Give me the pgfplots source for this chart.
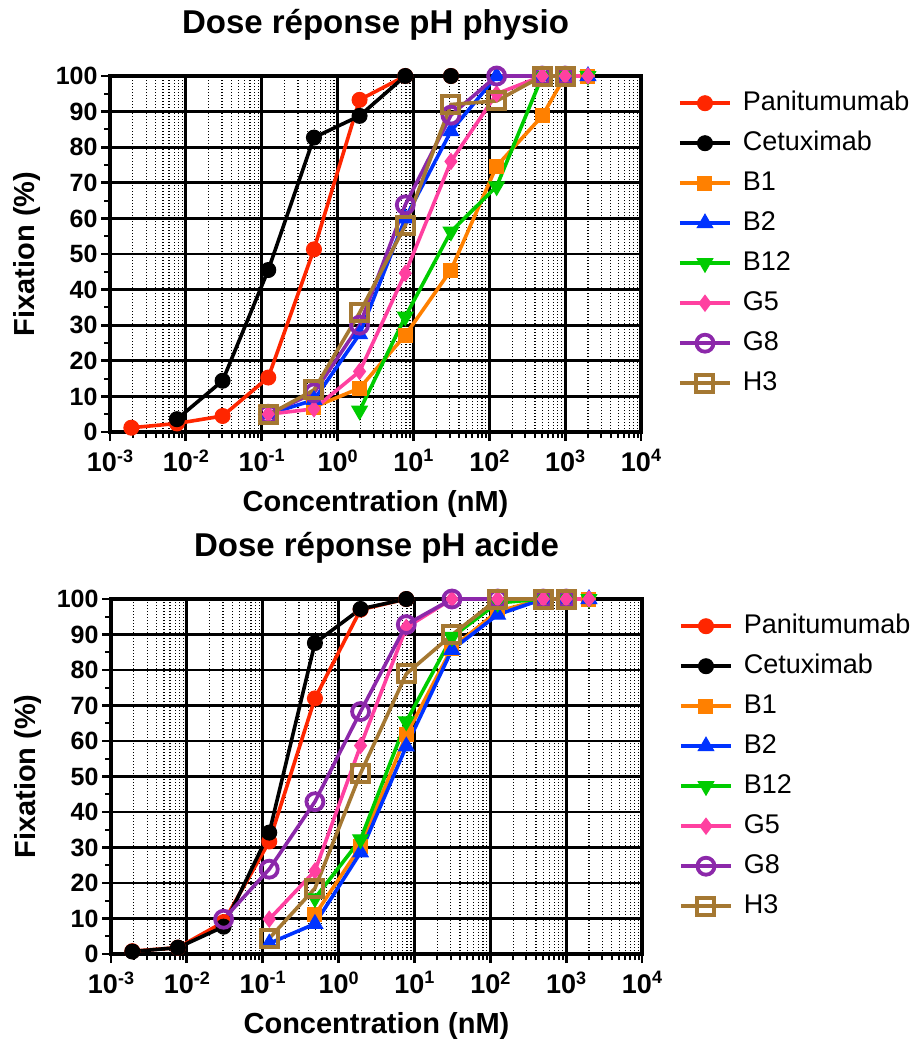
\documentclass[border=0pt]{standalone}
\usepackage{fontspec}
\setmainfont{Liberation Sans}
\usepackage{pgfplots}
\pgfplotsset{compat=1.18}
\definecolor{cPani}{RGB}{255,38,0}
\definecolor{cB1}{RGB}{255,128,0}
\definecolor{cB2}{RGB}{0,51,255}
\definecolor{cB12}{RGB}{0,204,0}
\definecolor{cG5}{RGB}{255,64,160}
\definecolor{cG8}{RGB}{140,40,170}
\definecolor{cH3}{RGB}{165,120,50}
\newcommand{\sups}[1]{\raisebox{9.5pt}{\fontsize{18}{18}\selectfont #1}}
\pgfplotsset{
  legend image code/.code={\draw[mark repeat=2,mark phase=2,#1] plot coordinates {(0pt,0pt) (25pt,0pt) (50pt,0pt)};},
  every axis plot/.append style={line width=3.6pt},
}
\tikzset{
  sPani/.style={color=cPani, mark=*, mark size=7.5pt, mark options={fill=cPani, line width=1pt}},
  sCet/.style={color=black, mark=*, mark size=7.5pt, mark options={fill=black, line width=1pt}},
  sB1/.style={color=cB1, mark=square*, mark size=7pt, mark options={fill=cB1, line width=1pt}},
  sB2/.style={color=cB2, mark=triangle*, mark size=9pt, mark options={fill=cB2, line width=1pt}},
  sB12/.style={color=cB12, mark=triangle*, mark size=9pt, mark options={fill=cB12, rotate=180, line width=1pt}},
  sG5/.style={color=cG5, mark=diamond*, mark size=8pt, mark options={fill=cG5, line width=1pt}},
  sG8/.style={color=cG8, mark=o, mark size=8.5pt, mark options={line width=3.8pt}},
  sH3/.style={color=cH3, mark=square, mark size=8.5pt, mark options={line width=4pt}},
}
\begin{document}
\begin{tikzpicture}
\useasboundingbox (0,0) rectangle (921pt,-1039pt);
\begin{axis}[
    at={(110pt,-432pt)}, anchor=south west,
    title={Dose réponse pH physio},
    scale only axis, width=531pt, height=356pt,
    xmode=log, log basis x=10, xmin=1e-3, xmax=1e4,
    ymin=0, ymax=100, ytick={0,10,...,100}, minor ytick={5,15,...,95},
    xtick={1e-3,1e-2,1e-1,1,10,100,1000,10000},
    minor xtick={0.002,0.003,0.004,0.005,0.006,0.007,0.008,0.009,
                 0.02,0.03,0.04,0.05,0.06,0.07,0.08,0.09,
                 0.2,0.3,0.4,0.5,0.6,0.7,0.8,0.9,
                 2,3,4,5,6,7,8,9,
                 20,30,40,50,60,70,80,90,
                 200,300,400,500,600,700,800,900,
                 2000,3000,4000,5000,6000,7000,8000,9000},
    xticklabels={10\sups{-3},10\sups{-2},10\sups{-1},10\sups{0},10\sups{1},10\sups{2},10\sups{3},10\sups{4}},
    yticklabels={0,10,20,30,40,50,60,70,80,90,100},
    tick pos=left, tick align=outside,
    major tick length=9pt, minor tick length=6pt,
    major tick style={line width=2.8pt, black},
    minor tick style={line width=2pt, black},
    xmajorgrids, ymajorgrids, xminorgrids, yminorgrids=false,
    major grid style={line width=2.8pt, black},
    minor grid style={line width=1.2pt, black, dash pattern=on 1.2pt off 1.8pt},
    axis line style={line width=3.4pt},
    tick label style={font=\fontsize{25}{30}\selectfont\bfseries},
    xticklabel style={font=\fontsize{27}{30}\selectfont\bfseries, yshift=-5pt},
    xlabel={Concentration (nM)}, ylabel={Fixation (\%)},
    label style={font=\fontsize{29}{34}\selectfont\bfseries},
    xlabel style={at={(axis description cs:0.5,0)}, anchor=base, yshift=-79pt},
    ylabel style={at={(axis description cs:-0.142,0.5)}, anchor=base},
    title style={font=\fontsize{33}{38}\selectfont\bfseries, at={(axis description cs:0.5,1)}, anchor=base, yshift=37pt},
    clip=false,
    legend style={at={(axis description cs:1,1)}, anchor=north west, xshift=37pt, yshift=-14pt,
      draw=none, fill=none, inner sep=0pt, row sep=14pt, column sep=11pt,
      font=\fontsize{27}{32}\selectfont,
      nodes={text height=20pt, text depth=6pt, inner sep=0pt}},
    legend cell align=left,
]
\addplot[sPani] coordinates {(0.00191,1.2)(0.00763,2.4)(0.0305,4.5)(0.122,15.3)(0.488,51.3)(1.95,93.3)(7.81,100)(31.25,100)};
\addlegendentry{Panitumumab}
\addplot[sCet] coordinates {(0.00763,3.6)(0.0305,14.4)(0.122,45.5)(0.488,82.7)(1.95,88.8)(7.81,100)(31.25,100)};
\addlegendentry{Cetuximab}
\addplot[sB1] coordinates {(0.488,7)(1.95,12.3)(7.81,27.2)(31.25,45.5)(125,74.7)(500,88.8)(1000,100)(2000,100)};
\addlegendentry{B1}
\addplot[sB2] coordinates {(0.122,5)(0.488,9)(1.95,27.5)(7.81,60)(31.25,84.5)(125,100)(500,100)(1000,100)(2000,100)};
\addlegendentry{B2}
\addplot[sB12] coordinates {(1.95,6)(7.81,32.4)(31.25,56.3)(125,69)(500,100)(1000,100)(2000,100)};
\addlegendentry{B12}
\addplot[sG5] coordinates {(0.122,5)(0.488,6.5)(1.95,17)(7.81,44.6)(31.25,76)(125,95)(500,100)(1000,100)(2000,100)};
\addlegendentry{G5}
\addplot[sG8] coordinates {(0.122,5)(0.488,11)(1.95,30)(7.81,63.8)(31.25,89)(125,100)(500,100)(1000,100)};
\addlegendentry{G8}
\addplot[sH3] coordinates {(0.122,4.8)(0.488,11.8)(1.95,33.5)(7.81,58)(31.25,92)(125,93)(500,100)(1000,100)};
\addlegendentry{H3}
\end{axis}
\begin{axis}[
    at={(111pt,-954pt)}, anchor=south west,
    title={Dose réponse pH acide},
    scale only axis, width=531pt, height=355pt,
    xmode=log, log basis x=10, xmin=1e-3, xmax=1e4,
    ymin=0, ymax=100, ytick={0,10,...,100}, minor ytick={5,15,...,95},
    xtick={1e-3,1e-2,1e-1,1,10,100,1000,10000},
    minor xtick={0.002,0.003,0.004,0.005,0.006,0.007,0.008,0.009,
                 0.02,0.03,0.04,0.05,0.06,0.07,0.08,0.09,
                 0.2,0.3,0.4,0.5,0.6,0.7,0.8,0.9,
                 2,3,4,5,6,7,8,9,
                 20,30,40,50,60,70,80,90,
                 200,300,400,500,600,700,800,900,
                 2000,3000,4000,5000,6000,7000,8000,9000},
    xticklabels={10\sups{-3},10\sups{-2},10\sups{-1},10\sups{0},10\sups{1},10\sups{2},10\sups{3},10\sups{4}},
    yticklabels={0,10,20,30,40,50,60,70,80,90,100},
    tick pos=left, tick align=outside,
    major tick length=9pt, minor tick length=6pt,
    major tick style={line width=2.8pt, black},
    minor tick style={line width=2pt, black},
    xmajorgrids, ymajorgrids, xminorgrids, yminorgrids=false,
    major grid style={line width=2.8pt, black},
    minor grid style={line width=1.2pt, black, dash pattern=on 1.2pt off 1.8pt},
    axis line style={line width=3.4pt},
    tick label style={font=\fontsize{25}{30}\selectfont\bfseries},
    xticklabel style={font=\fontsize{27}{30}\selectfont\bfseries, yshift=-5pt},
    xlabel={Concentration (nM)}, ylabel={Fixation (\%)},
    label style={font=\fontsize{29}{34}\selectfont\bfseries},
    xlabel style={at={(axis description cs:0.5,0)}, anchor=base, yshift=-79pt},
    ylabel style={at={(axis description cs:-0.142,0.5)}, anchor=base},
    title style={font=\fontsize{33}{38}\selectfont\bfseries, at={(axis description cs:0.5,1)}, anchor=base, yshift=37pt},
    clip=false,
    legend style={at={(axis description cs:1,1)}, anchor=north west, xshift=37pt, yshift=-14pt,
      draw=none, fill=none, inner sep=0pt, row sep=14pt, column sep=11pt,
      font=\fontsize{27}{32}\selectfont,
      nodes={text height=20pt, text depth=6pt, inner sep=0pt}},
    legend cell align=left,
]
\addplot[sPani] coordinates {(0.00191,0.8)(0.00763,1.8)(0.0305,9)(0.122,31.7)(0.488,72)(1.95,97)(7.81,100)};
\addlegendentry{Panitumumab}
\addplot[sCet] coordinates {(0.00191,0.7)(0.00763,1.8)(0.0305,7.7)(0.122,34.2)(0.488,87.6)(1.95,97.2)(7.81,100)};
\addlegendentry{Cetuximab}
\addplot[sB1] coordinates {(0.488,11)(1.95,30.3)(7.81,61.7)(31.25,86.2)(125,96.5)(500,100)(1000,100)(2000,100)};
\addlegendentry{B1}
\addplot[sB2] coordinates {(0.122,3)(0.488,8.5)(1.95,28.6)(7.81,58.5)(31.25,85.7)(125,95.6)(500,100)(1000,100)(2000,100)};
\addlegendentry{B2}
\addplot[sB12] coordinates {(0.488,15.7)(1.95,32.3)(7.81,65.5)(31.25,89.3)(125,98.9)(500,100)(1000,100)(2000,100)};
\addlegendentry{B12}
\addplot[sG5] coordinates {(0.122,9.8)(0.488,23.4)(1.95,58.7)(7.81,92)(31.25,100)(125,100)(500,100)(1000,100)(2000,100)};
\addlegendentry{G5}
\addplot[sG8] coordinates {(0.0305,9.8)(0.122,23.9)(0.488,42.9)(1.95,68.3)(7.81,92.8)(31.25,100)(125,100)(500,100)(1000,100)};
\addlegendentry{G8}
\addplot[sH3] coordinates {(0.122,4.4)(0.488,18.5)(1.95,50.9)(7.81,78.9)(31.25,89.9)(125,100)(500,100)(1000,100)};
\addlegendentry{H3}
\end{axis}
\end{tikzpicture}
\end{document}
